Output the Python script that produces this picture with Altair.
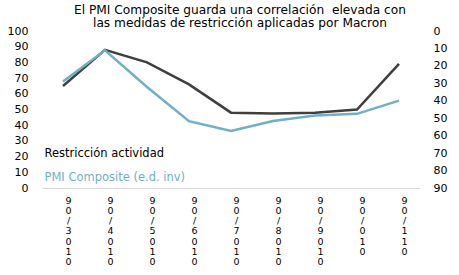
import altair as alt
import pandas as pd

months = ["3", "4", "5", "6", "7", "8", "9", "10", "11"]
restriccion = [65, 88, 80, 66, 48, 47.5, 48, 50, 79]
pmi = [28.9, 11.1, 32.1, 51.7, 57.3, 51.6, 48.5, 47.5, 39.9]
series_names = ["Restricción actividad", "PMI Composite (e.d. inv)"]
series_colors = ["#3f3f3f", "#6fafc7"]
left_ticks = [0, 10, 20, 30, 40, 50, 60, 70, 80, 90, 100]
right_ticks = [0, 10, 20, 30, 40, 50, 60, 70, 80, 90]
title_lines = ["El PMI Composite guarda una correlación\u00a0 elevada con",
               "las medidas de restricción aplicadas por Macron"]


def stacked_label(m):
    # vertical, character-by-character date label as in the reference
    if len(m) == 1:
        chars = ["9", "0", "/", m, "0", "1", "0"]
    else:
        chars = ["9", "0", "/", m[1], m[0], "0"]
    return "|".join(chars)


cats = [stacked_label(m) for m in months]
df = pd.DataFrame({"cat": cats, "restr": restriccion, "pmi": pmi})

FONT = "DejaVu Sans"

x_enc = alt.X(
    "cat:N", sort=cats, title=None,
    scale=alt.Scale(paddingInner=0, paddingOuter=0),
    axis=alt.Axis(labelExpr="split(datum.value, '|')", labelAngle=0,
                  labelLineHeight=10.3, labelFontSize=9.5, labelPadding=7,
                  labelOffset=5, ticks=False, domainColor="#d9d9d9",
                  labelColor="#000", labelFont=FONT, domainWidth=1),
)

color_scale = alt.Scale(domain=series_names, range=series_colors)

line1 = alt.Chart(df).mark_line(strokeWidth=2.5).encode(
    x=x_enc,
    y=alt.Y("restr:Q", title=None,
            scale=alt.Scale(domain=[0, 100], nice=False),
            axis=alt.Axis(values=left_ticks, ticks=False, domain=False, grid=False,
                          labelFontSize=11, labelPadding=14, labelColor="#000",
                          labelFont=FONT, orient="left")),
    color=alt.Color(
        "s:N", scale=color_scale,
        legend=alt.Legend(
            orient="none", legendX=-9, legendY=117, title=None,
            symbolOpacity=0, symbolSize=0, symbolStrokeWidth=0,
            labelFontSize=11.5, labelFont=FONT, labelOffset=0,
            rowPadding=11, labelLimit=300,
            labelColor={"expr": "datum.value == 'PMI Composite (e.d. inv)' ? '#6fafc7' : '#000'"},
        ),
    ),
).transform_calculate(s="'Restricción actividad'")

line2 = alt.Chart(df).mark_line(strokeWidth=2.5).encode(
    x=x_enc,
    y=alt.Y("pmi:Q", title=None,
            scale=alt.Scale(domain=[0, 90], reverse=True, nice=False),
            axis=alt.Axis(values=right_ticks, ticks=False, domain=False, grid=False,
                          labelFontSize=11, labelPadding=13, labelColor="#000",
                          labelFont=FONT, orient="right")),
    color=alt.Color("s:N", scale=color_scale),
).transform_calculate(s="'PMI Composite (e.d. inv)'")

chart = alt.layer(line1, line2).resolve_scale(y="independent").properties(
    width=378, height=157,
    autosize=alt.AutoSizeParams(type="none"),
    padding={"left": 42, "top": 31, "right": 39, "bottom": 87},
    title=alt.TitleParams(text=title_lines, fontSize=12.2, font=FONT,
                          fontWeight="normal", color="#000", anchor="middle",
                          lineHeight=12.6, offset=-4, dx=9),
).configure_view(stroke=None).configure_axis(grid=False)

chart.save("out.html", embed_options={"renderer": "svg", "actions": False})
